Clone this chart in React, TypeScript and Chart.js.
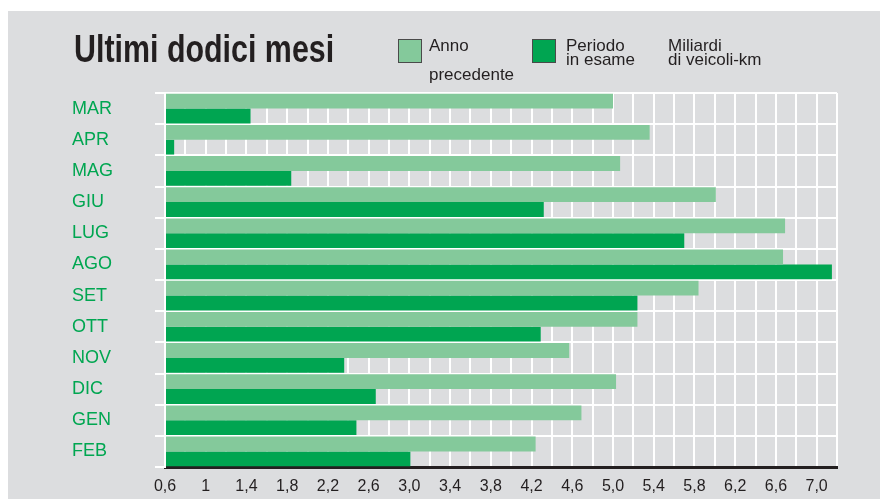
import React, { useEffect, useRef } from "react";
import { Chart, registerables } from "chart.js";

Chart.register(...registerables);

const months = ["MAR", "APR", "MAG", "GIU", "LUG", "AGO", "SET", "OTT", "NOV", "DIC", "GEN", "FEB"];
const previousYear = [5.0, 5.36, 5.07, 6.01, 6.69, 6.67, 5.84, 5.24, 4.57, 5.03, 4.69, 4.24];
const currentPeriod = [1.44, 0.69, 1.84, 4.32, 5.7, 7.15, 5.24, 4.29, 2.36, 2.67, 2.48, 3.01];
const axisMin = 0.6;
const axisMax = 7.2;
const gridStep = 0.2;
const tickLabels = ["0,6", "1", "1,4", "1,8", "2,2", "2,6", "3,0", "3,4", "3,8", "4,2", "4,6", "5,0", "5,4", "5,8", "6,2", "6,6", "7,0"];

const titleText = "Ultimi dodici mesi";
const legendPrev = ["Anno", "precedente"];
const legendCurr = ["Periodo", "in esame"];
const unitText = ["Miliardi", "di veicoli-km"];

const LIGHT = "#84c99b";
const DARK = "#00a551";
const INK = "#231f20";
const FONT = "'Liberation Sans', Arial, Helvetica, sans-serif";

function Line({ x, baseline, size, text, bold }: { x: number; baseline: number; size: number; text: string; bold?: boolean }) {
  const top = baseline - 0.8465 * size;
  return (
    <div
      style={{
        position: "absolute",
        left: x,
        top,
        fontSize: size,
        lineHeight: `${size}px`,
        fontFamily: FONT,
        fontWeight: bold ? 700 : 400,
        color: INK,
        whiteSpace: "nowrap",
      }}
    >
      {text}
    </div>
  );
}

export default function App() {
  const ref = useRef<HTMLCanvasElement>(null);

  useEffect(() => {
    const chart = new Chart(ref.current as HTMLCanvasElement, {
      type: "bar",
      data: {
        labels: months,
        datasets: [
          {
            label: legendPrev.join(" "),
            data: previousYear,
            backgroundColor: LIGHT,
            base: axisMin,
            barPercentage: 1,
            categoryPercentage: 0.95,
          },
          {
            label: legendCurr.join(" "),
            data: currentPeriod,
            backgroundColor: DARK,
            base: axisMin,
            barPercentage: 1,
            categoryPercentage: 0.95,
          },
        ],
      },
      options: {
        indexAxis: "y",
        responsive: false,
        devicePixelRatio: 1,
        animation: false,
        events: [],
        layout: { padding: { left: 72, right: 43, top: 93, bottom: 0 } },
        plugins: { legend: { display: false }, tooltip: { enabled: false }, title: { display: false } },
        scales: {
          x: {
            type: "linear",
            position: "bottom",
            min: axisMin,
            max: axisMax,
            grid: { color: "#ffffff", lineWidth: 2, drawTicks: false },
            border: { display: true, color: INK, width: 3 },
            ticks: {
              stepSize: gridStep,
              maxTicksLimit: 40,
              autoSkip: false,
              maxRotation: 0,
              padding: 10,
              color: INK,
              font: { family: FONT, size: 16 },
              callback: (_v: any, index: number) => (index % 2 === 0 ? tickLabels[index / 2] ?? "" : ""),
            },
            afterFit: (s: any) => {
              s.height = 32;
            },
          },
          y: {
            type: "category",
            grid: {
              color: (ctx: any) => (ctx.index === months.length ? "rgba(0,0,0,0)" : "#ffffff"),
              lineWidth: 2,
              tickLength: 10,
              offset: true,
            },
            border: { display: true, color: "#ffffff", width: 2 },
            ticks: {
              color: "#00a651",
              font: { family: FONT, size: 18 },
              crossAlign: "far",
              autoSkip: false,
            },
            afterFit: (s: any) => {
              s.width = 93;
            },
          },
        },
      } as any,
    });
    return () => chart.destroy();
  }, []);

  return (
    <div
      style={{
        position: "fixed",
        left: 0,
        top: 0,
        width: 880,
        height: 499,
        background: "#ffffff",
        overflow: "hidden",
        fontFamily: FONT,
      }}
    >
      <div style={{ position: "absolute", left: 8, top: 11, right: 0, bottom: 0, background: "#dcdddf" }} />
      <canvas
        ref={ref}
        width={880}
        height={499}
        style={{ position: "absolute", left: 0, top: 0, width: 880, height: 499 }}
      />
      <div
        style={{
          position: "absolute",
          left: 74,
          top: 62 - 0.8465 * 38,
          fontSize: 38,
          lineHeight: "38px",
          fontWeight: 700,
          color: INK,
          whiteSpace: "nowrap",
          transform: "scaleX(0.8)",
          transformOrigin: "left top",
          fontFamily: FONT,
        }}
      >
        {titleText}
      </div>
      <div style={{ position: "absolute", left: 398, top: 39, width: 22, height: 22, background: LIGHT, border: "1px solid #4a4a4a" }} />
      <Line x={429} baseline={51} size={17} text={legendPrev[0]} />
      <Line x={429} baseline={80} size={17} text={legendPrev[1]} />
      <div style={{ position: "absolute", left: 532, top: 39, width: 22, height: 22, background: DARK, border: "1px solid #4a4a4a" }} />
      <Line x={566} baseline={51} size={17} text={legendCurr[0]} />
      <Line x={566} baseline={65} size={17} text={legendCurr[1]} />
      <Line x={668} baseline={51} size={17} text={unitText[0]} />
      <Line x={668} baseline={65} size={17} text={unitText[1]} />
    </div>
  );
}
